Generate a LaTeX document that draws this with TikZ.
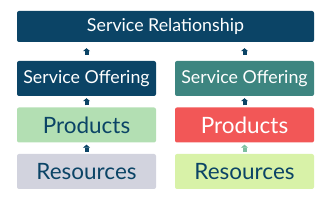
\documentclass[tikz,border=0pt]{standalone}
\usepackage{fontspec}
\setmainfont{Lato}
\usetikzlibrary{arrows.meta}
\definecolor{navy}{HTML}{0B4466}
\definecolor{teal}{HTML}{3D8580}
\definecolor{mint}{HTML}{B3DFB3}
\definecolor{coral}{HTML}{F25757}
\definecolor{greyblue}{HTML}{D2D3DE}
\definecolor{lime}{HTML}{D8F2A8}
\definecolor{seafoam}{HTML}{7DBFA0}

\begin{document}
\begin{tikzpicture}[x=1pt,y=1pt,
    box/.style={rounded corners=2pt, minimum width=139pt, minimum height=35pt, inner sep=0pt},
    small/.style={font=\fontsize{17.8}{20}\selectfont},
    big/.style={font=\fontsize{22.5}{26}\selectfont},
    link/.style={line width=4pt, -{Triangle[width=7pt,length=3pt]}, navy}]
    % Frame
    \useasboundingbox (0,0) rectangle (329,208);

    % Top
    \node[box, small, fill=navy, text=white, minimum width=297pt, minimum height=31pt] (rel) at (165.5,181.5) {Service Relationship};

    % Left column
    \node[box, small, fill=navy, text=white] (offerL) at (86.5,129.5) {Service Offering};
    \node[box, big, fill=mint, text=navy] (prodL) at (86.5,83) {Products};
    \node[box, big, fill=greyblue, text=navy] (resL) at (86.5,36.5) {Resources};

    % Right column
    \node[box, small, fill=teal, text=white] (offerR) at (244.5,129.5) {Service Offering};
    \node[box, big, fill=coral, text=white] (prodR) at (244.5,83) {Products};
    \node[box, big, fill=lime, text=navy] (resR) at (244.5,36.5) {Resources};

    % Arrows
    \draw[link, shorten <=6pt, shorten >=6pt] (offerL.north) -- (offerL.north |- rel.south);
    \draw[link, shorten <=6pt, shorten >=6pt] (offerR.north) -- (offerR.north |- rel.south);
    \draw[link, shorten <=2pt, shorten >=2pt] (prodL) -- (offerL);
    \draw[link, shorten <=2pt, shorten >=2pt] (prodR) -- (offerR);
    \draw[link, shorten <=2pt, shorten >=2pt] (resL) -- (prodL);
    \draw[link, seafoam, shorten <=2pt, shorten >=2pt] (resR) -- (prodR);
\end{tikzpicture}
\end{document}
